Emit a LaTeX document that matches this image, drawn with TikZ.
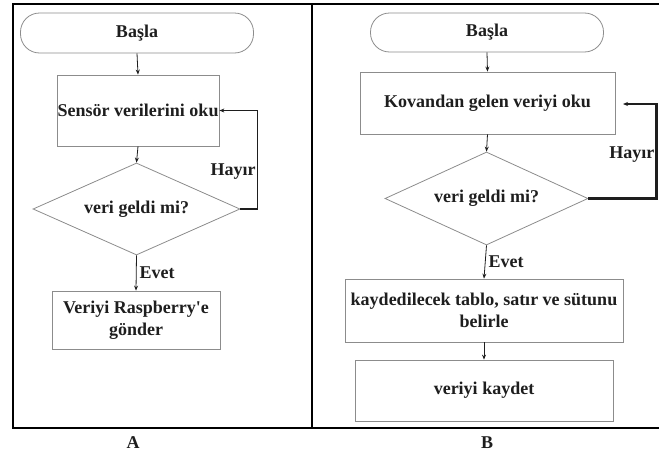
\documentclass[tikz,border=0pt]{standalone}
\usepackage{fontspec}
\setmainfont{Liberation Serif}
\usepackage{tikz}
\usetikzlibrary{arrows.meta,positioning,shapes.geometric}
\definecolor{Ink}{HTML}{1E1E1E}
\definecolor{BoxGrey}{HTML}{8C8C8C}
\newcommand{\akFont}{\fontsize{18}{22}\selectfont\bfseries}

\begin{document}
\begin{tikzpicture}[x=1pt,y=-1pt]
  \path[use as bounding box] (0,0) rectangle (659,458);
  \tikzset{
    akTerm/.style={
      draw=BoxGrey, line width=.8pt, rounded corners=19pt,
      minimum width=233pt, minimum height=40pt, inner sep=0pt,
      font=\akFont, text=Ink
    },
    akBox/.style={
      draw=BoxGrey, line width=.8pt, align=center, inner sep=0pt,
      font=\akFont, text=Ink
    },
    akDec/.style={
      diamond, aspect=2.25, draw=BoxGrey, line width=.8pt, inner sep=0pt,
      font=\akFont, text=Ink
    },
    akFlow/.style={
      -{Stealth[length=5pt,width=4pt]}, draw=Ink, line width=.8pt
    },
    akBack/.style={akFlow, line width=1.6pt},
    akLabel/.style={font=\akFont, text=Ink, inner sep=1pt},
    akFrame/.style={draw=black, line width=2.8pt}
  }

  % frames of the two panels
  \draw[akFrame] (13,4) rectangle (312,428);
  \draw[akFrame] (312,4) -- (659,4);
  \draw[akFrame] (312,428) -- (659,428);

  % panel A
  \node[akTerm] (startA) at (137,33) {Başla};
  \node[akBox,minimum width=162pt,minimum height=71pt] (readA) at (138,110.5)
    {Sensör verilerini oku};
  \node[akDec,minimum width=207pt,minimum height=92pt] (checkA) at (136.5,209)
    {veri geldi mi?};
  \node[akBox,minimum width=168pt,minimum height=58pt] (sendA) at (136,320)
    {Veriyi Raspberry\textquotesingle e\\gönder};
  \node[akLabel] (nameA) at (133,443) {A};

  \draw[akFlow] (startA.south) -- (readA.north);
  \draw[akFlow] (readA.south) -- (checkA.north);
  \draw[akFlow] (checkA.south) -- node[akLabel,right=2pt] {Evet} (sendA.north);
  \draw[akBack] (checkA.east) -- ++(17,0)
    |- node[akLabel,left,pos=.19] {Hayır} (readA.east);

  % panel B
  \node[akTerm,minimum height=39pt] (startB) at (487,32.5) {Başla};
  \node[akBox,minimum width=255pt,minimum height=62pt] (readB) at (487.5,103)
    {Kovandan gelen veriyi oku};
  \node[akDec,minimum width=203pt,minimum height=93pt] (checkB) at (486.5,198.5)
    {veri geldi mi?};
  \node[akBox,minimum width=278pt,minimum height=63pt] (markB) at (484,310.5)
    {kaydedilecek tablo, satır ve sütunu\\belirle};
  \node[akBox,minimum width=258pt,minimum height=61pt] (saveB) at (484,390.5)
    {veriyi kaydet};
  \node[akLabel] (nameB) at (487,443) {B};
  \coordinate (loopB) at (623,104);

  \draw[akFlow] (startB.south) -- (readB.north);
  \draw[akFlow] (readB.south) -- (checkB.north);
  \draw[akFlow] (checkB.south) -- node[akLabel,right=2pt] {Evet} (markB.north);
  \draw[akFlow] (markB.south) -- (saveB.north);
  \draw[akBack,line width=2.2pt] (checkB.east) -- ++(68,0)
    |- node[akLabel,left,pos=.23] {Hayır} (loopB);
\end{tikzpicture}
\end{document}
